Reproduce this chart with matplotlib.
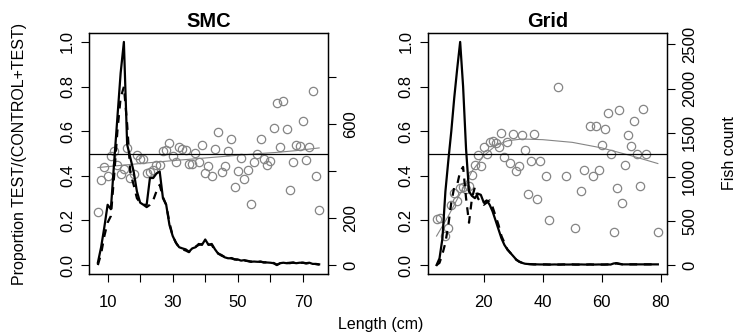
import matplotlib.pyplot as plt
import numpy as np

plt.rcParams['font.family'] = ['Liberation Sans', 'DejaVu Sans']
plt.rcParams['font.size'] = 12

# ---- SMC: proportion points (length, proportion) ----
smc_len = [7, 8, 9, 10, 11, 12, 13, 14, 15, 16, 17, 18, 19, 20, 21, 22, 23, 24, 25, 26,
           27, 28, 29, 30, 31, 32, 33, 34, 35, 36, 37, 38, 39, 40, 41, 42, 43, 44, 45, 46,
           47, 48, 49, 50, 51, 52, 53, 54, 55, 56, 57, 58, 59, 60, 61, 62, 63, 64, 65, 66,
           67, 68, 69, 70, 71, 72, 73, 74, 75]
smc_prop = [0.24, 0.38, 0.44, 0.40, 0.49, 0.51, 0.45, 0.41, 0.43, 0.525, 0.39, 0.41, 0.495, 0.475, 0.476, 0.413, 0.418, 0.425, 0.447, 0.447,
            0.51, 0.515, 0.548, 0.488, 0.463, 0.528, 0.52, 0.517, 0.452, 0.452, 0.503, 0.461, 0.536, 0.411, 0.443, 0.401, 0.518, 0.596, 0.418, 0.443,
            0.51, 0.566, 0.348, 0.42, 0.482, 0.387, 0.427, 0.272, 0.463, 0.50, 0.567, 0.475, 0.45, 0.467, 0.616, 0.725, 0.53, 0.734, 0.61, 0.335,
            0.463, 0.54, 0.535, 0.647, 0.47, 0.53, 0.778, 0.397, 0.249]
smc_fit_len = [7, 20, 30, 40, 50, 57, 62, 68, 75]
smc_fit = [0.437, 0.455, 0.468, 0.48, 0.492, 0.50, 0.505, 0.513, 0.525]

# ---- SMC: fish counts ----
smc_count_len = list(range(7, 76))
smc_control = [10, 76, 162, 257, 238, 437, 628, 818, 951, 514, 456, 399, 314, 266, 257, 257, 371, 371, 390, 399,
               285, 257, 171, 124, 95, 76, 71, 67, 57, 71, 76, 90, 86, 109, 86, 90, 67, 48, 43, 33,
               29, 29, 24, 24, 19, 21, 17, 14, 15, 14, 14, 12, 11, 10, 8, 0, 8, 10, 8, 10,
               10, 8, 10, 10, 8, 10, 5, 5, 3]
smc_test = [0, 48, 124, 181, 209, 380, 570, 713, 760, 600, 390, 342, 285, 266, 257, 247, 257, 276, 314, 342,
            290, 257, 181, 124, 95, 74, 67, 62, 55, 70, 78, 86, 90, 100, 88, 86, 62, 50, 40, 35,
            27, 30, 25, 22, 20, 19, 18, 15, 14, 13, 15, 11, 12, 9, 9, 2, 7, 9, 9, 8,
            11, 9, 9, 10, 7, 9, 6, 4, 2]

# ---- Grid: proportion points ----
grid_len = [4, 5, 7, 8, 9, 10, 11, 12, 13, 14, 15, 16, 17, 18, 19, 20, 21, 22, 23, 24,
            25, 26, 27, 28, 29, 30, 31, 32, 33, 34, 35, 36, 37, 38, 39, 41, 42, 45, 48, 51,
            53, 54, 56, 57, 58, 59, 60, 61, 62, 63, 64, 65, 66, 67, 68, 69, 70, 71, 72, 73,
            74, 75, 79]
grid_prop = [0.207, 0.21, 0.13, 0.165, 0.27, 0.323, 0.285, 0.345, 0.35, 0.34, 0.355, 0.405, 0.45, 0.492, 0.443, 0.528, 0.499, 0.551, 0.556, 0.548,
             0.53, 0.59, 0.486, 0.552, 0.458, 0.586, 0.42, 0.443, 0.582, 0.515, 0.32, 0.465, 0.589, 0.296, 0.468, 0.401, 0.20, 0.80, 0.40, 0.168,
             0.333, 0.426, 0.623, 0.40, 0.623, 0.427, 0.54, 0.611, 0.68, 0.499, 0.15, 0.344, 0.695, 0.278, 0.447, 0.583, 0.533, 0.647, 0.499, 0.353,
             0.698, 0.50, 0.147]
grid_fit_len = [4, 8, 12, 16, 20, 24, 28, 33, 40, 50, 60, 70, 79]
grid_fit = [0.13, 0.22, 0.32, 0.42, 0.49, 0.535, 0.557, 0.565, 0.562, 0.55, 0.525, 0.49, 0.455]

# ---- Grid: fish counts ----
grid_count_len = list(range(4, 80))
grid_control = [0, 76, 303, 834, 1188, 1517, 1896, 2225, 2528, 2022, 1315, 834, 784, 758, 809, 796, 708, 733, 683, 607,
                506, 404, 303, 228, 177, 139, 101, 63, 38, 25, 15, 12, 10, 8, 8, 7, 7, 7, 6, 6,
                7, 6, 6, 7, 6, 6, 7, 6, 6, 7, 6, 6, 7, 6, 6, 7, 6, 6, 7, 6,
                18, 22, 15, 8, 8, 8, 8, 8, 8, 8, 8, 8, 8, 8, 8, 8]
grid_test = [0, 25, 126, 253, 455, 708, 885, 910, 1062, 1112, 758, 480, 758, 885, 758, 708, 683, 708, 733, 657,
             556, 455, 329, 253, 177, 139, 96, 60, 40, 25, 15, 12, 10, 8, 8, 7, 7, 7, 6, 6,
             7, 6, 6, 7, 6, 6, 7, 6, 6, 7, 6, 6, 7, 6, 6, 7, 6, 6, 7, 6,
             15, 18, 12, 8, 8, 8, 8, 8, 8, 8, 8, 8, 8, 8, 8, 8]

gray = '#858585'

fig = plt.figure(figsize=(7.41, 3.36), dpi=100)
ax1 = fig.add_axes([89 / 741, 62 / 336, 239 / 741, 241 / 336])
ax2 = fig.add_axes([427.7 / 741, 62 / 336, 239 / 741, 241 / 336])


def r_range(vals):
    lo, hi = min(vals), max(vals)
    d = (hi - lo) * 0.04
    return lo - d, hi + d


def panel(ax, title, plen, prop, flen, fit, clen, c1, c2, xticks, xlabels, cticks, clabels):
    ax.plot(plen, prop, 'o', mfc='none', mec=gray, ms=6, mew=0.9)
    ax.plot(flen, fit, color=gray, lw=0.8)
    ax.axhline(0.5, color='black', lw=0.9)
    ax.set_xlim(*r_range(plen + clen))
    ax.set_ylim(-0.04, 1.04)
    ax.set_yticks([0, 0.2, 0.4, 0.6, 0.8, 1.0])
    ax.set_yticklabels(['0.0', '0.2', '0.4', '0.6', '0.8', '1.0'], rotation=90, va='center')
    ax.set_xticks(xticks)
    ax.set_xticklabels(xlabels)
    ax.tick_params(axis='x', length=6, width=0.8, pad=9)
    ax.tick_params(axis='y', length=6, width=0.8, pad=4)
    ax.set_title(title, fontsize=14.4, fontweight='bold', pad=4)

    tw = ax.twinx()
    tw.plot(clen, c1, color='black', lw=1.6)
    tw.plot(clen, c2, color='black', lw=1.6, dashes=(3.5, 3))
    cmax = max(max(c1), max(c2))
    tw.set_ylim(-0.04 * cmax, 1.04 * cmax)
    tw.set_yticks(cticks)
    tw.set_yticklabels(clabels, rotation=90, va='center')
    tw.tick_params(axis='y', length=6, width=0.8, pad=5)
    for a in (ax, tw):
        for s in a.spines.values():
            s.set_linewidth(0.9)


panel(ax1, 'SMC', smc_len, smc_prop, smc_fit_len, smc_fit, smc_count_len,
      smc_control, smc_test, [10, 20, 30, 40, 50, 60, 70], ['10', '', '30', '', '50', '', '70'],
      [0, 200, 400, 600, 800], ['0', '200', '', '600', ''])
panel(ax2, 'Grid', grid_len, grid_prop, grid_fit_len, grid_fit, grid_count_len,
      grid_control, grid_test, [20, 40, 60, 80], ['20', '40', '60', '80'],
      [0, 500, 1000, 1500, 2000, 2500], ['0', '500', '1000', '1500', '2000', '2500'])

fig.text(20 / 741, 0.543, 'Proportion TEST/(CONTROL+TEST)', rotation=90, ha='center', va='center', fontsize=11.5)
fig.text(729 / 741, 0.543, 'Fish count', rotation=90, ha='center', va='center', fontsize=11.5)
fig.text(381 / 741, 0.033, 'Length (cm)', ha='center', va='center', fontsize=11.5)

fig.savefig('out.png', dpi=100)
